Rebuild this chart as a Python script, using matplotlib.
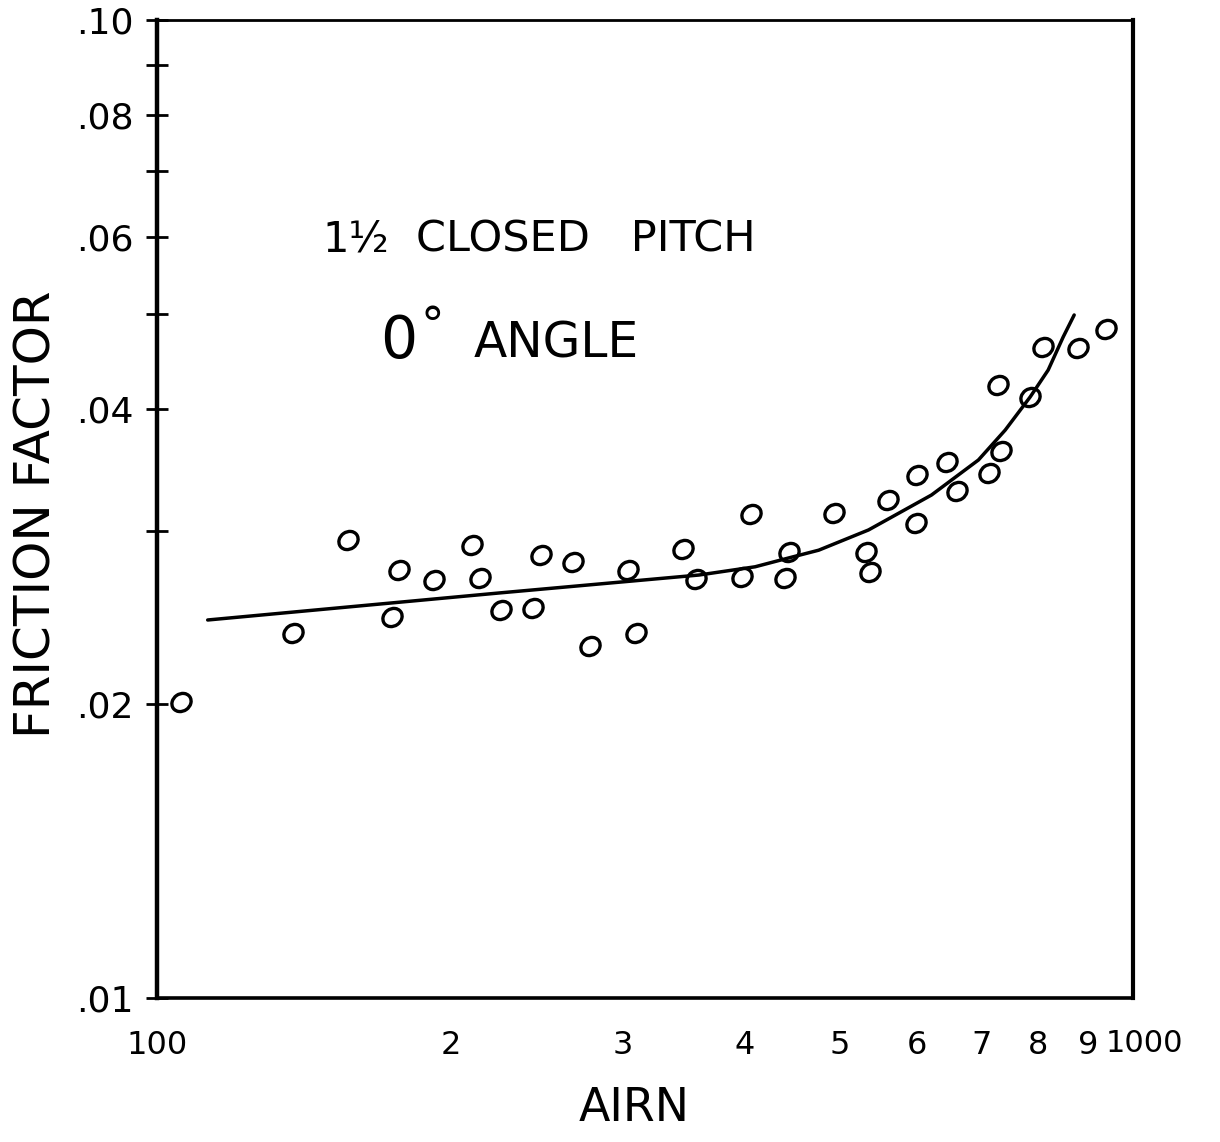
import matplotlib
matplotlib.use("Agg")
import matplotlib.pyplot as plt
from matplotlib.markers import MarkerStyle
from matplotlib.transforms import Affine2D, ScaledTranslation
from matplotlib.ticker import FixedLocator, FixedFormatter, NullLocator

# ---- data ----
airn = [105.8, 137.7, 156.8, 173.9, 176.8, 192.0, 210.4, 214.5, 225.3, 242.9,
        247.6, 266.9, 277.9, 303.9, 309.7, 345.8, 356.5, 397.4, 405.9, 439.8,
        443.8, 493.5, 532.1, 537.1, 560.4, 600.0, 601.4, 645.3, 660.7, 712.4,
        732.8, 727.8, 784.6, 809.1, 878.5, 938.5]
friction = [0.02008, 0.02362, 0.02940, 0.02453, 0.02740, 0.02676, 0.02906, 0.02689,
            0.02493, 0.02505, 0.02838, 0.02792, 0.02291, 0.02740, 0.02362, 0.02878,
            0.02683, 0.02695, 0.03125, 0.02689, 0.02858, 0.03132, 0.02858, 0.02727,
            0.03230, 0.03059, 0.03425, 0.03532, 0.03299, 0.03441, 0.03625, 0.04235,
            0.04117, 0.04630, 0.04619, 0.04831]

curve_x = [112.7, 224.2, 359.2, 410.0, 443.8, 476.4, 535.8, 621.6, 694.4, 739.7,
           784.6, 818.6, 848.1, 870.4]
curve_y = [0.02435, 0.02595, 0.02707, 0.02760, 0.02818, 0.02870, 0.03010, 0.03268,
           0.03549, 0.03808, 0.04117, 0.04386, 0.04741, 0.04993]

y_ticks = [0.01, 0.02, 0.03, 0.04, 0.05, 0.06, 0.07, 0.08, 0.09, 0.10]
y_tick_labels = [".01", ".02", "", ".04", "", ".06", "", ".08", "", ".10"]
x_ticks = [100, 200, 300, 400, 500, 600, 700, 800, 900]
x_tick_labels = ["100", "2", "3", "4", "5", "6", "7", "8", "9"]

FONT = ["DejaVu Sans"]

fig = plt.figure(figsize=(12.2, 11.42), dpi=100)
ax = fig.add_axes([0.1287, 0.1261, 0.8, 0.8564])
ax.set_xscale("log")
ax.set_yscale("log")
ax.set_xlim(100, 1000)
ax.set_ylim(0.01, 0.10)

mk = MarkerStyle("o", fillstyle="none",
                 transform=Affine2D().scale(1.0, 0.85).rotate_deg(35))
ax.plot(airn, friction, linestyle="none", marker=mk, markersize=14.5,
        markeredgewidth=2.4, markeredgecolor="black", color="black")
ax.plot(curve_x, curve_y, color="black", linewidth=2.5, solid_capstyle="round",
        solid_joinstyle="round")

ax.yaxis.set_major_locator(FixedLocator(y_ticks))
ax.yaxis.set_major_formatter(FixedFormatter(y_tick_labels))
ax.yaxis.set_minor_locator(NullLocator())
ax.xaxis.set_major_locator(FixedLocator(x_ticks))
ax.xaxis.set_major_formatter(FixedFormatter(x_tick_labels))
ax.xaxis.set_minor_locator(NullLocator())

ax.tick_params(axis="y", direction="inout", length=16, width=2, pad=9,
               labelsize=26)
ax.tick_params(axis="x", length=0, pad=23, labelsize=23)
for lab in ax.get_xticklabels() + ax.get_yticklabels():
    lab.set_family(FONT)

# the "1000" label sits a little right of the axis end
ax.text(1000, 0, "1000", ha="left", va="top", fontsize=22, family=FONT,
        transform=ax.get_xaxis_transform() +
        ScaledTranslation(-0.27, -0.31, fig.dpi_scale_trans))

for side, lw in [("left", 3.2), ("bottom", 2.6), ("right", 3.0), ("top", 2.0)]:
    ax.spines[side].set_linewidth(lw)
    ax.spines[side].set_color("black")

ax.set_xlabel("AIRN", fontsize=33, family=FONT)
ax.xaxis.set_label_coords(0.489, -0.09)
ax.set_ylabel("FRICTION FACTOR", fontsize=36, family=FONT)
ax.yaxis.set_label_coords(-0.099, 0.495)

ax.text(0.169, 0.763, "1½", transform=ax.transAxes, fontsize=30,
        ha="left", va="baseline", family=FONT)
ax.text(0.265, 0.763, "CLOSED   PITCH", transform=ax.transAxes, fontsize=31,
        ha="left", va="baseline", family=FONT)
ax.text(0.2285, 0.654, "0", transform=ax.transAxes, fontsize=42,
        ha="left", va="baseline", family=FONT)
ax.text(0.270, 0.686, "°", transform=ax.transAxes, fontsize=34,
        ha="left", va="center", family=FONT)
ax.text(0.3248, 0.6554, "ANGLE", transform=ax.transAxes, fontsize=35,
        ha="left", va="baseline", family=FONT)

fig.savefig("out.png", dpi=100, facecolor="white")
